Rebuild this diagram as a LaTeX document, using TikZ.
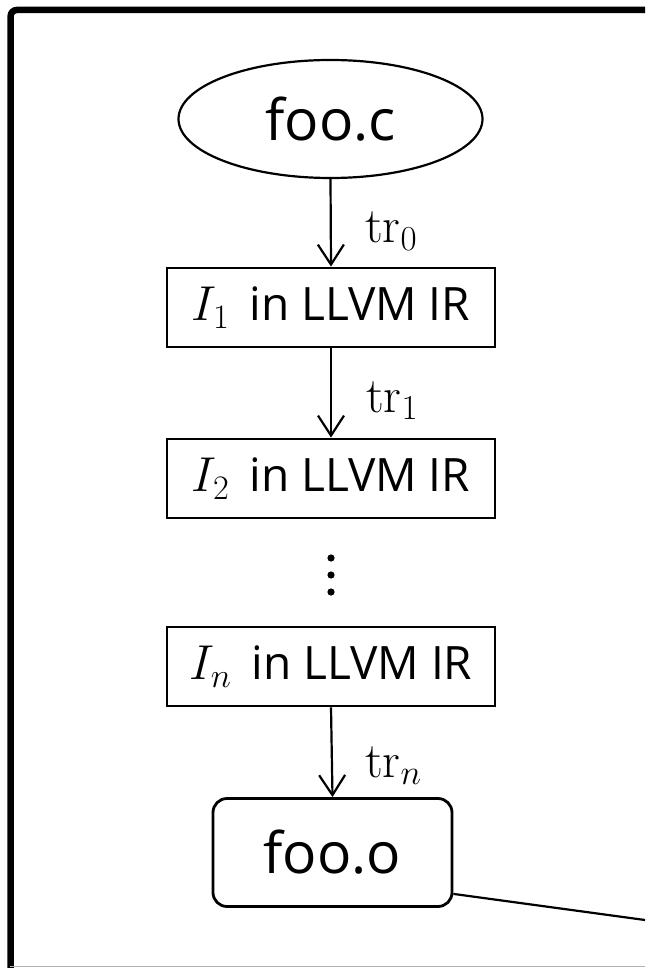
\RequirePackage{fix-cm}
\documentclass[tikz,border=0pt]{standalone}
\usepackage[no-math]{fontspec}
\setmainfont{Open Sans}
\usetikzlibrary{shapes.geometric,arrows.meta,calc}
\newcommand\mathbig[1]{{\fontsize{49}{56}\selectfont$#1\,$}}
\tikzset{
  conn/.style={line width=2.2pt,-{Straight Barb[length=20pt,width=26pt,line width=2.2pt]}},
  irbox/.style={draw,line width=2.8pt,minimum width=328pt,minimum height=79pt,inner sep=0pt,font=\fontsize{46}{56}\selectfont},
  srcnode/.style={draw,ellipse,line width=2.2pt,minimum width=304pt,minimum height=118pt,inner sep=0pt,font=\fontsize{57}{66}\selectfont},
  objnode/.style={draw,rounded corners=14pt,line width=2.8pt,minimum width=239pt,minimum height=108pt,inner sep=0pt,font=\fontsize{57}{66}\selectfont},
  trlabel/.style={anchor=base west,inner sep=0pt,font=\fontsize{50}{56}\selectfont},
  dotmark/.style={fill=black}
}
\begin{document}
\begin{tikzpicture}[x=1pt,y=-1pt]
\useasboundingbox (0,0) rectangle (645,968);
% frame
\draw[line width=6.5pt,rounded corners=6pt] (645,10) -- (10.7,10) -- (10.7,968);
\draw[gray!60,line width=1.5pt] (10,966.5) -- (645,966.5);
% nodes
\node[srcnode] (fooc) at (330.5,119) {foo.c};
\node[irbox] (i1) at (331,307.5) {\mathbig{I_1} in LLVM IR};
\node[irbox] (i2) at (331,478.5) {\mathbig{I_2} in LLVM IR};
\coordinate (dots) at (331,575);
\node[irbox] (in) at (331,666.5) {\mathbig{I_n} in LLVM IR};
\node[objnode] (fooo) at (332.5,852.5) {foo.o};
% dots
\fill[dotmark] ($(dots)+(0,-17)$) circle (3.6pt);
\fill[dotmark] (dots) circle (3.6pt);
\fill[dotmark] ($(dots)+(0,17)$) circle (3.6pt);
% connectors
\draw[conn] (fooc.south) -- (i1.north);
\draw[conn] (i1.south) -- (i2.north);
\draw[conn] (in.south) -- (fooo.north);
\node[trlabel] (tr0) at (365,243) {$\mathrm{tr}_0$};
\node[trlabel] (tr1) at (366,412) {$\mathrm{tr}_1$};
\node[trlabel] (trn) at (365,777) {$\mathrm{tr}_n$};
% outgoing line
\coordinate (ostart) at ($(fooo.south east)+(0,-14)$);
\coordinate (oend) at (645,920);
\draw[line width=2.2pt] (ostart) -- (oend);
\end{tikzpicture}
\end{document}
